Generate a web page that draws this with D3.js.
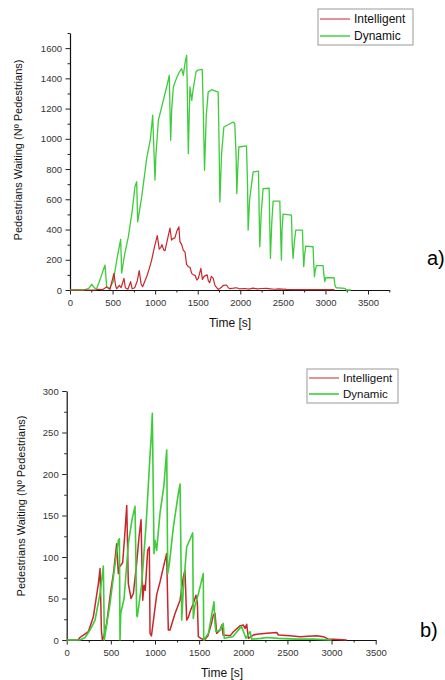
<!DOCTYPE html>
<html>
<head>
<meta charset="utf-8">
<script src="https://cdn.jsdelivr.net/npm/d3@7"></script>
<style>
  html, body { margin: 0; padding: 0; background: #fff; }
  svg { display: block; }
  text { font-family: Arial, "Liberation Sans", sans-serif; }
</style>
</head>
<body>
<svg id="chart" width="445" height="680"></svg>
<script>
// ---------- DATA ----------
const seriesNames = ["Intelligent", "Dynamic"];
const seriesColors = ["#c8262b", "#3dcc3a"];

// Chart a) [time s, pedestrians]
const aIntelligent = [[0,0],[300,0],[330,5],[380,2],[430,20],[470,5],[516,110],[535,30],[548,8],[580,30],[600,15],[634,77],[650,15],[680,5],[712,55],[730,8],[760,15],[790,60],[813,128],[835,40],[853,22],[880,60],[900,88],[930,140],[959,198],[990,280],[1025,360],[1048,270],[1065,280],[1080,300],[1100,265],[1116,260],[1143,330],[1174,410],[1193,330],[1210,340],[1232,345],[1255,390],[1279,418],[1291,320],[1312,300],[1330,264],[1351,250],[1369,170],[1390,154],[1410,150],[1429,110],[1450,100],[1468,99],[1490,66],[1507,77],[1537,143],[1555,70],[1575,90],[1611,100],[1625,60],[1640,48],[1660,90],[1682,77],[1700,35],[1713,22],[1740,4],[1760,10],[1779,18],[1800,30],[1838,33],[1860,15],[1877,9],[1920,12],[1955,15],[1990,8],[2050,10],[2100,6],[2150,12],[2200,7],[2250,10],[2307,11],[2350,8],[2400,5],[2450,7],[2542,4],[2650,3],[2800,2],[3000,2],[3090,2],[3110,0]];
const aDynamic = [[0,0],[160,0],[220,10],[255,38],[290,12],[313,8],[360,80],[411,165],[431,22],[460,8],[508,55],[550,200],[595,335],[607,112],[640,230],[685,352],[730,520],[763,683],[783,716],[795,451],[842,616],[880,780],[900,870],[908,892],[920,925],[945,1000],[971,1156],[998,727],[1010,900],[1038,1123],[1077,1211],[1135,1343],[1166,1420],[1182,991],[1195,1200],[1214,1343],[1250,1400],[1284,1442],[1311,1464],[1331,1420],[1350,1500],[1370,1552],[1390,903],[1400,1150],[1409,1343],[1430,1254],[1447,1331],[1480,1442],[1500,1455],[1553,1459],[1565,1200],[1580,792],[1600,1150],[1623,1309],[1662,1325],[1740,1309],[1750,1000],[1760,583],[1780,900],[1807,1078],[1916,1111],[1935,1100],[1950,900],[1959,638],[1970,800],[1983,946],[2073,953],[2085,700],[2092,396],[2110,600],[2151,781],[2214,786],[2222,500],[2229,286],[2245,500],[2268,671],[2339,673],[2347,400],[2354,209],[2370,450],[2386,588],[2464,588],[2475,350],[2483,198],[2490,400],[2503,502],[2601,495],[2610,300],[2620,209],[2635,320],[2652,396],[2730,396],[2738,250],[2745,154],[2755,230],[2769,290],[2855,286],[2862,180],[2871,88],[2880,130],[2894,161],[2972,161],[2982,100],[2992,55],[3000,70],[3004,81],[3101,81],[3110,40],[3117,22],[3129,15],[3226,11],[3246,0],[3300,0]];

// Chart b) [time s, pedestrians]
const bIntelligent = [[0,0],[130,0],[150,3],[189,6],[245,10],[302,28],[359,68],[378,86],[393,12],[404,0],[420,4],[453,20],[500,60],[529,80],[566,116],[585,80],[597,88],[634,93],[660,130],[680,162],[698,68],[729,50],[755,56],[790,90],[820,125],[842,145],[861,48],[876,66],[890,60],[917,108],[936,112],[944,8],[960,5],[990,30],[1020,55],[1057,70],[1100,90],[1132,104],[1151,12],[1170,12],[1227,32],[1284,48],[1321,76],[1340,84],[1359,24],[1380,28],[1400,35],[1434,44],[1464,54],[1480,45],[1491,4],[1520,2],[1560,0],[1600,5],[1640,20],[1661,30],[1680,32],[1699,8],[1737,12],[1756,18],[1772,6],[1850,5],[1888,10],[1963,17],[2001,18],[2020,14],[2039,19],[2058,2],[2114,6],[2152,7],[2265,8],[2379,9],[2398,6],[2530,5],[2643,4],[2832,5],[2907,4],[2964,1],[3020,1],[3171,0]];
const bDynamic = [[0,0],[151,0],[208,3],[264,12],[321,24],[378,56],[415,89],[427,0],[440,10],[491,44],[540,85],[585,120],[597,122],[604,0],[612,32],[650,50],[698,116],[740,145],[774,161],[793,30],[800,28],[850,68],[900,140],[944,223],[958,245],[970,273],[989,104],[1000,120],[1019,108],[1057,153],[1100,185],[1133,229],[1144,80],[1163,92],[1208,136],[1265,177],[1284,188],[1303,24],[1320,60],[1359,112],[1400,122],[1427,129],[1434,26],[1450,40],[1490,55],[1547,80],[1552,0],[1605,8],[1668,46],[1680,20],[1690,10],[1737,12],[1773,20],[1785,2],[1880,4],[1960,14],[1982,16],[2030,2],[2077,10],[2095,1],[2200,2],[2265,3],[2400,2],[2600,1],[2800,1],[3000,0]];

// Axis ticks
const aXTicks = [0,500,1000,1500,2000,2500,3000,3500];
const aYTicks = [0,200,400,600,800,1000,1200,1400,1600];
const bXTicks = [0,500,1000,1500,2000,2500,3000,3500];
const bYTicks = [0,50,100,150,200,250,300];
const xTitle = "Time [s]";
const yTitle = "Pedestrians Waiting (Nº Pedestrians)";

// ---------- DRAW ----------
const svg = d3.select("#chart");

function drawChart(cfg) {
  const g = svg.append("g");
  const x = d3.scaleLinear().domain(cfg.xDomain).range([cfg.left, cfg.right]);
  const y = d3.scaleLinear().domain(cfg.yDomain).range([cfg.bottom, cfg.top]);

  const xMinor = d3.range(cfg.xDomain[0], cfg.xDomain[1] + 1, cfg.xMinorStep).filter(v => !cfg.xTicks.includes(v));
  const yMinor = d3.range(cfg.yDomain[0], cfg.yDomain[1] + 1, cfg.yMinorStep).filter(v => !cfg.yTicks.includes(v));

  g.append("g").attr("transform", `translate(0,${cfg.bottom})`)
    .call(d3.axisBottom(x).tickValues(xMinor).tickSize(2.5).tickFormat(""))
    .call(s => s.select(".domain").remove())
    .selectAll("line").attr("stroke", "#222");
  g.append("g").attr("transform", `translate(${cfg.left},0)`)
    .call(d3.axisLeft(y).tickValues(yMinor).tickSize(2.5).tickFormat(""))
    .call(s => s.select(".domain").remove())
    .selectAll("line").attr("stroke", "#222");

  const xAx = g.append("g").attr("transform", `translate(0,${cfg.bottom})`)
    .call(d3.axisBottom(x).tickValues(cfg.xTicks).tickSize(4.5).tickPadding(4.5).tickSizeOuter(0).tickFormat(d3.format("d")));
  const yAx = g.append("g").attr("transform", `translate(${cfg.left},0)`)
    .call(d3.axisLeft(y).tickValues(cfg.yTicks).tickSize(4.5).tickPadding(3.5).tickSizeOuter(0).tickFormat(d3.format("d")));
  [xAx, yAx].forEach(ax => {
    ax.select(".domain").attr("stroke", "#111").attr("stroke-width", 1.2);
    ax.selectAll(".tick line").attr("stroke", "#222");
    ax.selectAll("text").attr("font-size", cfg.tickFont).attr("fill", "#333")
      .attr("font-family", "Arial, 'Liberation Sans', sans-serif");
  });

  const line = d3.line().x(d => x(d[0])).y(d => y(d[1]));
  cfg.series.forEach((s) => {
    g.append("path").datum(s.data)
      .attr("fill", "none").attr("stroke", s.color)
      .attr("stroke-width", s.width).attr("stroke-linejoin", "round")
      .attr("d", line);
  });

  g.append("text").attr("x", cfg.xTitlePos[0]).attr("y", cfg.xTitlePos[1])
    .attr("text-anchor", "middle").attr("font-size", cfg.titleFont).attr("fill", "#111").text(xTitle);
  g.append("text")
    .attr("transform", `translate(${cfg.yTitlePos[0]},${cfg.yTitlePos[1]}) rotate(-90)`)
    .attr("text-anchor", "middle").attr("font-size", cfg.yTitleFont).attr("fill", "#111").text(yTitle);

  const L = cfg.legend;
  g.append("rect").attr("x", L.x).attr("y", L.y).attr("width", L.w).attr("height", L.h)
    .attr("fill", "#fff").attr("stroke", "#999").attr("stroke-width", 1);
  seriesNames.forEach((name, i) => {
    const yy = L.y + L.rows[i];
    g.append("line").attr("x1", L.x + 2).attr("x2", L.x + 32).attr("y1", yy).attr("y2", yy)
      .attr("stroke", seriesColors[i]).attr("stroke-width", L.lw[i]);
    g.append("text").attr("x", L.x + 36).attr("y", yy + 4).attr("font-size", L.font)
      .attr("fill", "#111").text(name);
  });

  g.append("text").attr("x", cfg.label.x).attr("y", cfg.label.y)
    .attr("font-family", "'Times New Roman', 'Liberation Serif', serif")
    .attr("font-size", 20).attr("fill", "#000").text(cfg.label.text);
}

drawChart({
  left: 70, right: 389.3, top: 33, bottom: 290,
  xDomain: [0, 3750], yDomain: [0, 1700],
  xTicks: aXTicks, yTicks: aYTicks, xMinorStep: 250, yMinorStep: 100,
  tickFont: 9.5, titleFont: 12, yTitleFont: 11,
  xTitlePos: [230, 327], yTitlePos: [22, 150],
  series: [
    { data: aDynamic, color: seriesColors[1], width: 1.3 },
    { data: aIntelligent, color: seriesColors[0], width: 1.2 }
  ],
  legend: { x: 318, y: 9, w: 95, h: 36, rows: [10, 27], font: 12, lw: [1, 1.4] },
  label: { x: 427, y: 265, text: "a)" }
});

drawChart({
  left: 66.7, right: 375.7, top: 391, bottom: 640,
  xDomain: [0, 3500], yDomain: [0, 300],
  xTicks: bXTicks, yTicks: bYTicks, xMinorStep: 250, yMinorStep: 25,
  tickFont: 9.5, titleFont: 12, yTitleFont: 11,
  xTitlePos: [222, 677], yTitlePos: [25, 506],
  series: [
    { data: bIntelligent, color: seriesColors[0], width: 1.5 },
    { data: bDynamic, color: seriesColors[1], width: 1.6 }
  ],
  legend: { x: 307, y: 369, w: 91, h: 34, rows: [9, 25], font: 11.5, lw: [1, 1.6] },
  label: { x: 420, y: 637, text: "b)" }
});
</script>
</body>
</html>
